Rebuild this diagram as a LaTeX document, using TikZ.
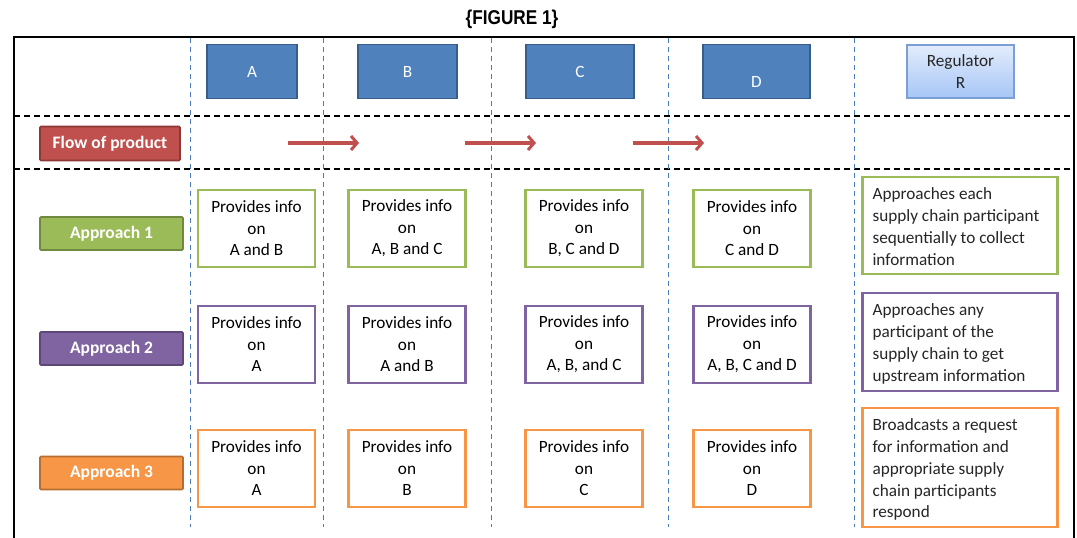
\documentclass[tikz,border=0pt]{standalone}
\usepackage{fontspec}
\setmainfont{Carlito}
\newfontfamily\titlefont[FakeStretch=0.86]{Liberation Sans}
\usetikzlibrary{arrows.meta}
\definecolor{blu}{HTML}{4F81BD}
\definecolor{bluD}{HTML}{385D8A}
\definecolor{grn}{HTML}{9BBB59}
\definecolor{grnD}{HTML}{71893F}
\definecolor{pur}{HTML}{8064A2}
\definecolor{purD}{HTML}{5C4776}
\definecolor{org}{HTML}{F79646}
\definecolor{orgD}{HTML}{B66D31}
\definecolor{redf}{HTML}{C0504D}
\definecolor{redD}{HTML}{8C3836}
\definecolor{vline}{HTML}{4A7EBB}
\definecolor{regT}{HTML}{E3ECFC}
\definecolor{regB}{HTML}{A6C6F6}
\definecolor{regD}{HTML}{7A9FD4}
\tikzset{
  txt/.style={font=\fontsize{17.2}{21.5}\selectfont, align=center, inner sep=0pt},
  actor/.style={txt, draw=bluD, fill=blu, text=white, line width=1.6pt, minimum height=54pt},
  lab/.style={txt, font=\fontsize{17.5}{18}\selectfont\bfseries, text=white, line width=1.6pt, rounded corners=1pt},
  info/.style={txt, draw=#1, line width=2.3pt, fill=white, minimum width=117pt, minimum height=77pt},
  side/.style={draw=#1, line width=2.3pt, fill=white, minimum width=195pt, inner sep=0pt},
  sidetext/.style={font=\fontsize{17.2}{21.7}\selectfont, align=left, inner sep=0pt, anchor=north west, text=black!85},
  vdash/.style={vline, line width=1pt, dash pattern=on 5pt off 4pt},
  hdash/.style={black, line width=1.4pt, dash pattern=on 6pt off 4pt},
  flow/.style={redf, line width=3.5pt, -{Straight Barb[length=6pt,width=14pt,line width=3pt]}},
}
\begin{document}
\begin{tikzpicture}[x=1pt,y=-1pt]
\useasboundingbox (0,0) rectangle (1077,538);
% title
\node[font=\titlefont\fontsize{20}{20}\selectfont\bfseries, inner sep=0pt] (title) at (512,19) {\{FIGURE 1\}};
% frame
\draw[line width=2pt] (14,540) -- (14,37) -- (1074,37) -- (1074,540);
% horizontal dashed
\draw[hdash] (14,116) -- (1074,116);
\draw[hdash] (14,169) -- (1074,169);
% vertical dashed
\foreach \x in {190.5,323,491.5,668,854.5}
  \draw[vdash] (\x,38) -- (\x,527);
% actors
\node[actor, minimum width=90pt] (A) at (252,71.5) {A};
\node[actor, minimum width=99pt] (B) at (407.5,71.5) {B};
\node[actor, minimum width=108pt] (C) at (580,71.5) {C};
\node[actor, minimum width=107pt] (D) at (756.5,71.5) {};
\node[txt, text=white] (Dl) at (756.5,82) {D};
\node[txt, draw=regD, line width=1.3pt, top color=regT, bottom color=regB, minimum width=107pt, minimum height=53pt, text=black!85] (R) at (960.5,71.5) {Regulator\\R};
% flow label
\node[lab, draw=redD, fill=redf, minimum width=140pt, minimum height=34pt] (flow) at (110,143.5) {Flow of product};
% arrows
\coordinate (f1s) at (288,143); \coordinate (f1e) at (359,143);
\coordinate (f2s) at (465,143); \coordinate (f2e) at (536,143);
\coordinate (f3s) at (633,143); \coordinate (f3e) at (704,143);
\draw[flow] (f1s) -- (f1e);
\draw[flow] (f2s) -- (f2e);
\draw[flow] (f3s) -- (f3e);
% approach labels
\node[lab, draw=grnD, fill=grn, minimum width=143pt, minimum height=33pt] (ap1) at (111.5,233.5) {Approach 1};
\node[lab, draw=purD, fill=pur, minimum width=143pt, minimum height=33pt] (ap2) at (111.5,348.5) {Approach 2};
\node[lab, draw=orgD, fill=org, minimum width=143pt, minimum height=33pt] (ap3) at (111.5,473) {Approach 3};
% row 1
\node[info=grn] (g1) at (256.5,228.5) {Provides info\\on\\A and B};
\node[info=grn] (g2) at (407,228.5) {Provides info\\on\\A, B and C};
\node[info=grn] (g3) at (584,228.5) {Provides info\\on\\B, C and D};
\node[info=grn] (g4) at (752,228.5) {Provides info\\on\\C and D};
% row 2
\node[info=pur] (p1) at (256.5,344.5) {Provides info\\on\\A};
\node[info=pur] (p2) at (407,344.5) {Provides info\\on\\A and B};
\node[info=pur] (p3) at (584,344.5) {Provides info\\on\\A, B, and C};
\node[info=pur] (p4) at (752,344.5) {Provides info\\on\\A, B, C and D};
% row 3
\node[info=org] (o1) at (256.5,468.5) {Provides info\\on\\A};
\node[info=org] (o2) at (407,468.5) {Provides info\\on\\B};
\node[info=org] (o3) at (584,468.5) {Provides info\\on\\C};
\node[info=org] (o4) at (752,468.5) {Provides info\\on\\D};
% side boxes
\node[side=grn, minimum height=97pt] (s1) at (960,225.5) {};
\node[side=pur, minimum height=98pt] (s2) at (960,342) {};
\node[side=org, minimum height=119pt] (s3) at (960,467.5) {};
\node[sidetext] (s1t) at ([xshift=11pt,yshift=-12pt]s1.north west) {Approaches each\\supply chain participant\\sequentially to collect\\information};
\node[sidetext] (s2t) at ([xshift=11pt,yshift=-12pt]s2.north west) {Approaches any\\participant of the\\supply chain to get\\upstream information};
\node[sidetext] (s3t) at ([xshift=11pt,yshift=-12pt]s3.north west) {Broadcasts a request\\for information and\\appropriate supply\\chain participants\\respond};
\end{tikzpicture}
\end{document}
